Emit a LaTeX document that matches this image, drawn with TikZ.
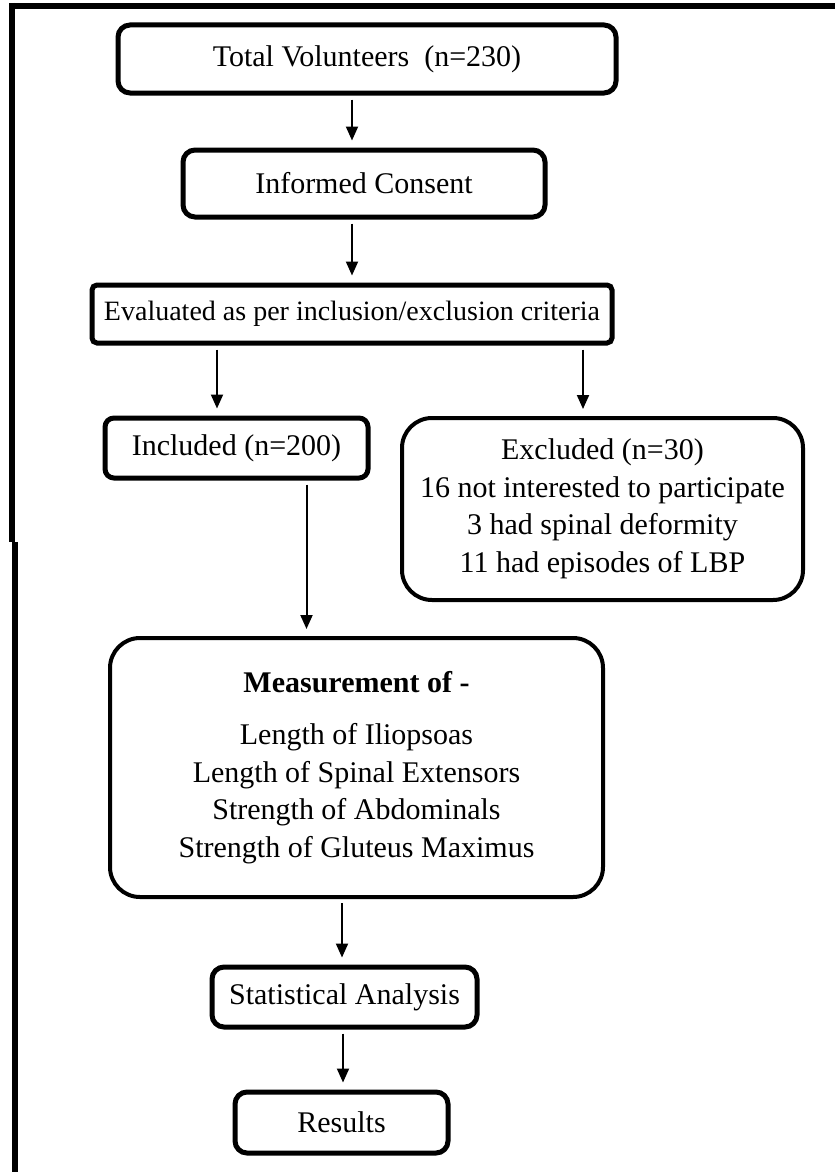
\documentclass[tikz,border=0pt]{standalone}
\usepackage{fontspec}
\setmainfont{Liberation Serif}
\usetikzlibrary{arrows.meta}
\begin{document}
\begin{tikzpicture}[x=1pt,y=-1pt,
  font=\fontsize{30}{37.5}\selectfont,
  sbox/.style={draw, line width=5pt, rounded corners=12pt, inner sep=0pt, align=center},
  rbox/.style={draw, line width=4pt, rounded corners=30pt, inner sep=0pt, align=center},
  arr/.style={-{Triangle[length=14pt,width=12pt]}, line width=2pt, shorten >=7pt, shorten <=4pt},
  frame/.style={line width=6pt}]
\useasboundingbox (0,0) rectangle (835,1172);
% outer frame
\draw[frame] (9,6) -- (835,6);
\draw[frame] (12,3) -- (12,542);
\draw[frame] (15,542) -- (15,1172);
% boxes
\node[sbox, minimum width=498pt, minimum height=68pt] (total) at (367,59) {Total Volunteers\ \ (n=230)};
\node[sbox, minimum width=362pt, minimum height=67pt] (inf) at (364,183.5) {Informed Consent};
\node[sbox, rounded corners=5pt, minimum width=520pt, minimum height=58pt, font=\fontsize{28}{34}\selectfont] (eval) at (352,314) {Evaluated as per inclusion/exclusion criteria};
\node[sbox, rounded corners=9pt, minimum width=263pt, minimum height=60pt] (incl) at (236.5,448) {Included (n=200)};
\node[rbox, minimum width=401pt, minimum height=182pt] (excl) at (602.5,509) {Excluded (n=30)\\16 not interested to participate\\3 had spinal deformity\\11 had episodes of LBP};
\node[rbox, minimum width=493pt, minimum height=259pt] (meas) at (356.5,767.5) {\textbf{Measurement of -}\\[15pt]Length of Iliopsoas\\Length of Spinal Extensors\\Strength of Abdominals\\Strength of Gluteus Maximus};
\node[sbox, minimum width=265pt, minimum height=60pt] (stat) at (344.5,997) {Statistical Analysis};
\node[sbox, minimum width=213pt, minimum height=61pt] (res) at (341.5,1122.5) {Results};
% arrows
\draw[arr] ([xshift=-15pt]total.south) -- ([xshift=-12pt]inf.north);
\draw[arr] ([xshift=-12pt]inf.south) -- (eval.north);
\draw[arr] ([xshift=-135pt]eval.south) -- ([xshift=-19.5pt]incl.north);
\draw[arr] ([xshift=231pt]eval.south) -- ([xshift=-19.5pt]excl.north);
\draw[arr] ([xshift=70pt]incl.south) -- ([xshift=-50pt]meas.north);
\draw[arr] ([xshift=-14.5pt]meas.south) -- ([xshift=-2.5pt]stat.north);
\draw[arr] ([xshift=-1.5pt]stat.south) -- ([xshift=1.5pt]res.north);
\end{tikzpicture}
\end{document}
